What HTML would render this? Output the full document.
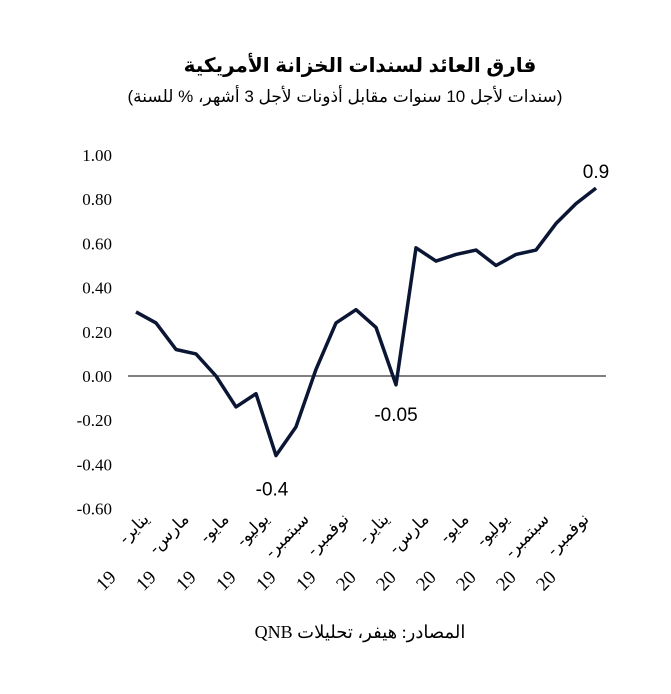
<!DOCTYPE html>
<html><head><meta charset="utf-8"><style>
body{margin:0;background:#fff}
svg text{font-family:"Liberation Serif","DejaVu Serif",serif}
</style></head><body>
<svg id="chart" width="671" height="689" viewBox="0 0 671 689" xmlns="http://www.w3.org/2000/svg">
<text x="360" y="72" text-anchor="middle" font-size="20" font-weight="bold" style="font-family:'Liberation Sans','DejaVu Sans',sans-serif" direction="rtl">فارق العائد لسندات الخزانة الأمريكية</text>
<text x="345" y="102" text-anchor="middle" font-size="17" style="font-family:'Liberation Sans','DejaVu Sans',sans-serif" direction="rtl">(سندات لأجل 10 سنوات مقابل أذونات لأجل 3 أشهر، % للسنة)</text>
<g id="yaxis"></g>
<g id="xaxis"></g>
<line x1="128" x2="606" y1="376" y2="376" stroke="#000" stroke-width="1"/>
<g id="series"></g>
<text x="360" y="638" text-anchor="middle" font-size="18" direction="rtl">المصادر: هيفر، تحليلات QNB</text>
</svg>
<script>
const yTicks=[1.00,0.80,0.60,0.40,0.20,0.00,-0.20,-0.40,-0.60];
const xLabels1=["يناير-","مارس-","مايو-","يوليو-","سبتمبر-","نوفمبر-","يناير-","مارس-","مايو-","يوليو-","سبتمبر-","نوفمبر-"];
const xLabels2=["19","19","19","19","19","19","20","20","20","20","20","20"];
const values=[0.29,0.24,0.12,0.10,0.00,-0.14,-0.08,-0.36,-0.23,0.03,0.24,0.30,0.22,-0.04,0.58,0.52,0.55,0.57,0.50,0.55,0.57,0.69,0.78,0.85];
const annLabels=["-0.4","-0.05","0.9"];
const annIdx=[7,13,23];
const ns="http://www.w3.org/2000/svg";
const y=v=>376-v*(376-155);
const x=i=>136+i*20;
const ya=document.getElementById('yaxis');
yTicks.forEach(t=>{const e=document.createElementNS(ns,'text');


e.setAttribute('x',112);e.setAttribute('y',y(t)+6);e.setAttribute('text-anchor','end');e.setAttribute('font-size','17');
e.textContent=t.toFixed(2);ya.appendChild(e);});
const xa=document.getElementById('xaxis');
xLabels1.forEach((l,k)=>{const px=x(k*2)+14,py=520;
const g=document.createElementNS(ns,'g');


g.setAttribute('transform',`rotate(-45 ${px} ${py})`);
const t1=document.createElementNS(ns,'text');t1.setAttribute('x',px);t1.setAttribute('y',py);
t1.setAttribute('direction','rtl');t1.setAttribute('text-anchor','start');t1.setAttribute('font-size','17');t1.textContent=l;
const t2=document.createElementNS(ns,'text');t2.setAttribute('x',px-74);t2.setAttribute('y',py+18);
t2.setAttribute('text-anchor','middle');t2.setAttribute('font-size','19');t2.textContent=xLabels2[k];
g.appendChild(t1);g.appendChild(t2);xa.appendChild(g);});
const s=document.getElementById('series');
const p=document.createElementNS(ns,'polyline');


p.setAttribute('points',values.map((v,i)=>x(i)+','+y(v)).join(' '));
p.setAttribute('fill','none');p.setAttribute('stroke','#0a1633');p.setAttribute('stroke-width','3.5');p.setAttribute('stroke-linejoin','round');
s.appendChild(p);
const offs=[[-4,40],[0,36],[0,-10]];
annIdx.forEach((idx,k)=>{const e=document.createElementNS(ns,'text');


e.setAttribute('x',x(idx)+offs[k][0]);e.setAttribute('y',y(values[idx])+offs[k][1]);
e.setAttribute('text-anchor','middle');e.setAttribute('font-size','19');
e.setAttribute('style',"font-family:'Liberation Sans','DejaVu Sans',sans-serif");
e.textContent=annLabels[k];s.appendChild(e);});
</script>
</body></html>
